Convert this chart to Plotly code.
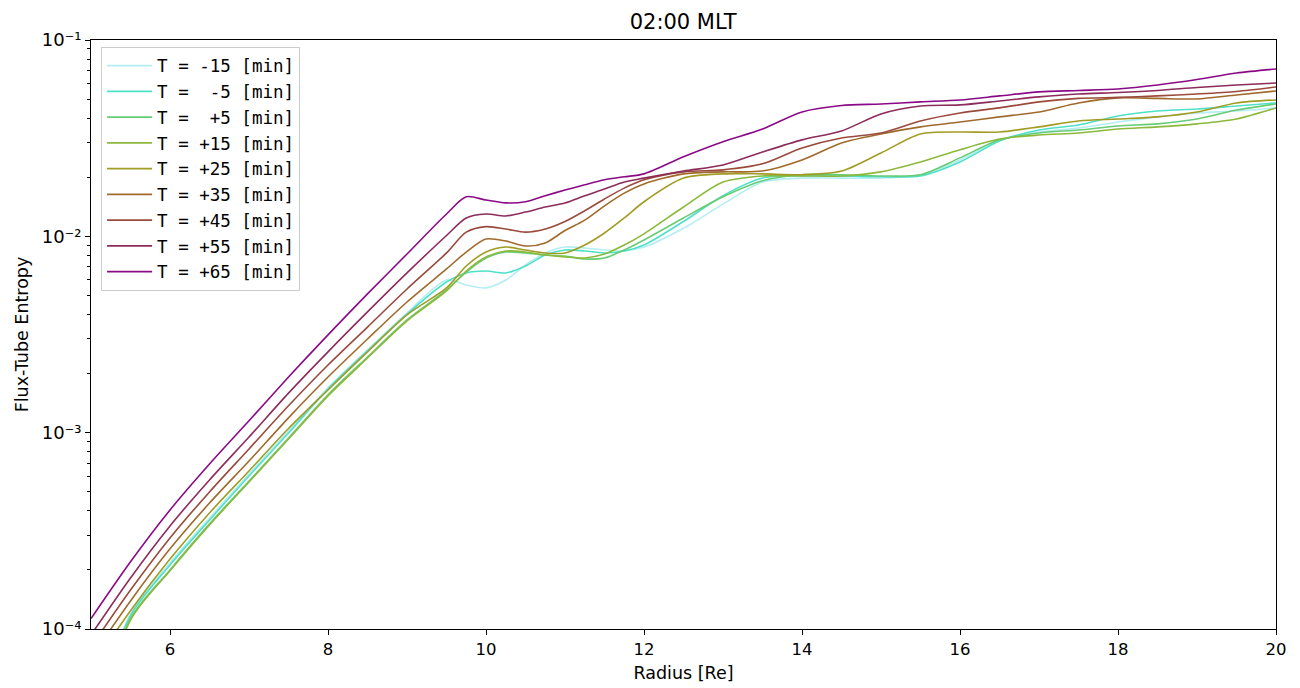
import plotly.graph_objects as go

# Radial grid [Re] shared by every time step
radius = [5.0, 5.5, 6.0, 6.5, 7.0, 7.5, 8.0, 8.5, 9.0, 9.5, 9.75, 10.0, 10.25, 10.5,
          10.75, 11.0, 11.25, 11.5, 11.75, 12.0, 12.5, 13.0, 13.5, 14.0, 14.5, 15.0,
          15.5, 16.0, 16.5, 17.0, 17.5, 18.0, 18.5, 19.0, 19.5, 20.0]

# Flux-tube entropy at each time step
s_m15 = [3.44e-5, 1.19e-4, 2.17e-4, 3.68e-4, 6.16e-4, 1.02e-3, 1.69e-3, 2.64e-3, 4.07e-3,
         5.99e-3, 5.65e-3, 5.46e-3, 5.99e-3, 7.15e-3, 8.23e-3, 8.82e-3, 8.72e-3, 8.52e-3,
         8.42e-3, 8.82e-3, 1.10e-2, 1.46e-2, 1.89e-2, 1.98e-2, 1.98e-2, 1.98e-2, 2.06e-2,
         2.45e-2, 3.10e-2, 3.40e-2, 3.56e-2, 3.82e-2, 4.06e-2, 4.25e-2, 4.35e-2, 4.51e-2]
s_m5 = [3.25e-5, 1.17e-4, 2.12e-4, 3.59e-4, 6.02e-4, 9.96e-4, 1.67e-3, 2.61e-3, 4.02e-3,
        5.85e-3, 6.51e-3, 6.66e-3, 6.51e-3, 7.06e-3, 8.03e-3, 8.52e-3, 8.42e-3, 8.23e-3,
        8.42e-3, 9.03e-3, 1.19e-2, 1.61e-2, 1.98e-2, 2.03e-2, 2.03e-2, 2.01e-2, 2.03e-2,
        2.39e-2, 3.06e-2, 3.48e-2, 3.69e-2, 4.10e-2, 4.35e-2, 4.45e-2, 4.61e-2, 4.78e-2]
s_p5 = [2.89e-5, 1.13e-4, 2.00e-4, 3.43e-4, 5.67e-4, 9.39e-4, 1.56e-3, 2.43e-3, 3.75e-3,
        5.33e-3, 6.58e-3, 7.76e-3, 8.32e-3, 8.23e-3, 8.03e-3, 7.94e-3, 7.67e-3, 7.76e-3,
        8.52e-3, 9.58e-3, 1.24e-2, 1.59e-2, 1.92e-2, 2.06e-2, 2.06e-2, 2.03e-2, 2.06e-2,
        2.51e-2, 3.10e-2, 3.36e-2, 3.48e-2, 3.65e-2, 3.74e-2, 3.96e-2, 4.40e-2, 4.72e-2]
s_p15 = [2.72e-5, 1.11e-4, 1.98e-4, 3.39e-4, 5.61e-4, 9.28e-4, 1.54e-3, 2.40e-3, 3.71e-3,
         5.27e-3, 6.66e-3, 7.85e-3, 8.42e-3, 8.32e-3, 8.03e-3, 7.85e-3, 7.76e-3, 8.13e-3,
         9.03e-3, 1.03e-2, 1.41e-2, 1.89e-2, 2.03e-2, 2.03e-2, 2.03e-2, 2.13e-2, 2.39e-2,
         2.76e-2, 3.13e-2, 3.28e-2, 3.36e-2, 3.52e-2, 3.61e-2, 3.74e-2, 3.96e-2, 4.51e-2]
s_p25 = [6.33e-5, 1.24e-4, 2.27e-4, 3.90e-4, 6.38e-4, 1.05e-3, 1.65e-3, 2.58e-3, 3.98e-3,
         5.46e-3, 7.06e-3, 8.32e-3, 8.82e-3, 8.52e-3, 8.23e-3, 8.23e-3, 9.03e-3, 1.04e-2,
         1.24e-2, 1.50e-2, 1.98e-2, 2.08e-2, 2.08e-2, 2.06e-2, 2.15e-2, 2.66e-2, 3.32e-2,
         3.40e-2, 3.40e-2, 3.61e-2, 3.87e-2, 3.96e-2, 4.06e-2, 4.30e-2, 4.78e-2, 4.95e-2]
s_p35 = [7.12e-5, 1.39e-4, 2.56e-4, 4.38e-4, 7.17e-4, 1.19e-3, 1.92e-3, 3.00e-3, 4.63e-3,
         6.82e-3, 8.32e-3, 9.69e-3, 9.47e-3, 8.93e-3, 9.25e-3, 1.07e-2, 1.21e-2, 1.43e-2,
         1.66e-2, 1.85e-2, 2.08e-2, 2.13e-2, 2.15e-2, 2.45e-2, 2.99e-2, 3.32e-2, 3.61e-2,
         3.82e-2, 4.06e-2, 4.30e-2, 4.78e-2, 5.07e-2, 5.04e-2, 5.01e-2, 5.25e-2, 5.50e-2]
s_p45 = [8.10e-5, 1.58e-4, 2.91e-4, 4.99e-4, 8.26e-4, 1.37e-3, 2.21e-3, 3.45e-3, 5.39e-3,
         8.23e-3, 1.05e-2, 1.12e-2, 1.09e-2, 1.05e-2, 1.09e-2, 1.19e-2, 1.35e-2, 1.55e-2,
         1.76e-2, 1.94e-2, 2.13e-2, 2.18e-2, 2.34e-2, 2.82e-2, 3.17e-2, 3.36e-2, 3.87e-2,
         4.25e-2, 4.51e-2, 4.84e-2, 5.04e-2, 5.10e-2, 5.19e-2, 5.31e-2, 5.47e-2, 5.76e-2]
s_p55 = [9.32e-5, 1.82e-4, 3.35e-4, 5.74e-4, 9.50e-4, 1.59e-3, 2.58e-3, 4.12e-3, 6.51e-3,
         1.01e-2, 1.24e-2, 1.30e-2, 1.27e-2, 1.33e-2, 1.41e-2, 1.48e-2, 1.61e-2, 1.74e-2,
         1.89e-2, 1.98e-2, 2.15e-2, 2.31e-2, 2.69e-2, 3.10e-2, 3.44e-2, 4.20e-2, 4.61e-2,
         4.67e-2, 4.89e-2, 5.13e-2, 5.31e-2, 5.40e-2, 5.53e-2, 5.73e-2, 5.90e-2, 6.04e-2]
s_p65 = [1.13e-4, 2.20e-4, 4.04e-4, 6.93e-4, 1.15e-3, 1.92e-3, 3.15e-3, 5.09e-3, 8.13e-3,
         1.30e-2, 1.59e-2, 1.53e-2, 1.48e-2, 1.50e-2, 1.61e-2, 1.72e-2, 1.83e-2, 1.94e-2,
         2.01e-2, 2.08e-2, 2.54e-2, 3.03e-2, 3.52e-2, 4.30e-2, 4.64e-2, 4.72e-2, 4.84e-2,
         4.95e-2, 5.19e-2, 5.44e-2, 5.53e-2, 5.63e-2, 5.90e-2, 6.29e-2, 6.79e-2, 7.12e-2]

series_labels = ["T = -15 [min]", "T =  -5 [min]", "T =  +5 [min]", "T = +15 [min]",
                 "T = +25 [min]", "T = +35 [min]", "T = +45 [min]", "T = +55 [min]",
                 "T = +65 [min]"]
series_values = [s_m15, s_m5, s_p5, s_p15, s_p25, s_p35, s_p45, s_p55, s_p65]
series_colors = ["#b4eef4", "#4fe0c8", "#68cc74", "#8cb83c", "#a09c24",
                 "#a06a2c", "#9a4a3c", "#8c2c5c", "#8a0a86"]

# Decade ticks of the entropy axis and their labels
y_tick_values = [1e-4, 1e-3, 1e-2, 1e-1]
y_tick_labels = ["10\u207b\u2074", "10\u207b\u00b3", "10\u207b\u00b2", "10\u207b\u00b9"]
x_tick_values = [6, 8, 10, 12, 14, 16, 18, 20]

fig = go.Figure()
for label, values, color in zip(series_labels, series_values, series_colors):
    fig.add_trace(go.Scatter(
        x=radius, y=values, mode="lines",
        name=label.replace(" ", "\u00a0"),
        line=dict(color=color, width=1.6, shape="spline", smoothing=0.8),
    ))

font_main = "DejaVu Sans"
minor_vals = [m * 10.0 ** e for e in (-4, -3, -2) for m in range(2, 10)]

fig.update_layout(
    width=1300, height=688,
    margin=dict(l=91, r=24, t=40, b=59),
    paper_bgcolor="white", plot_bgcolor="white",
    font=dict(family=font_main, size=17, color="black"),
    title=dict(text="02:00 MLT", x=0.5255, xanchor="center", y=0.969, yanchor="middle",
               yref="container", font=dict(size=21, family=font_main)),
    showlegend=True,
    legend=dict(x=0.0085, y=0.9885, xanchor="left", yanchor="top",
                bgcolor="white", bordercolor="#cccccc", borderwidth=1,
                font=dict(family="DejaVu Sans Mono", size=17.5),
                itemwidth=45),
)

fig.update_xaxes(
    range=[5, 20], tickvals=x_tick_values,
    ticks="outside", ticklen=5, tickwidth=1, tickcolor="black",
    showline=True, linecolor="black", linewidth=1, mirror=True,
    showgrid=False, zeroline=False, automargin=False,
    tickfont=dict(size=16.5),
    title=dict(text="Radius [Re]", standoff=8, font=dict(size=17.5)),
)
fig.update_yaxes(
    type="log", range=[-4, -1],
    tickvals=y_tick_values, ticktext=y_tick_labels,
    ticks="outside", ticklen=5, tickwidth=1, tickcolor="black",
    minor=dict(tickmode="array", tickvals=minor_vals, ticks="outside",
               ticklen=3, tickwidth=0.8, tickcolor="black", showgrid=False),
    showline=True, linecolor="black", linewidth=1, mirror=True,
    showgrid=False, zeroline=False, automargin=False,
    tickfont=dict(size=18),
    title=dict(text="Flux-Tube Entropy", standoff=8, font=dict(size=17.5)),
)

fig.write_html("out.html")
